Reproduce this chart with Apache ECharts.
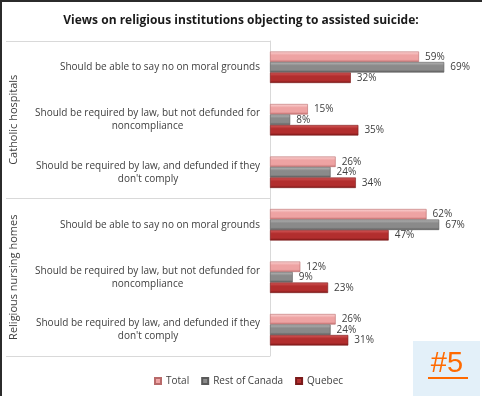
<!DOCTYPE html>
<html>
<head>
<meta charset="utf-8">
<script src="https://cdn.jsdelivr.net/npm/echarts@6/dist/echarts.min.js"></script>
<style>
  html, body { margin: 0; padding: 0; background: #fff; }
  #chart { width: 482px; height: 396px; }
</style>
</head>
<body>
<div id="chart"></div>
<script>
// statements, top to bottom
const statements = [
  'Should be able to say no on moral grounds',
  'Should be required by law, but not defunded for\nnoncompliance',
  'Should be required by law, and defunded if they\ndon\'t comply',
  'Should be able to say no on moral grounds',
  'Should be required by law, but not defunded for\nnoncompliance',
  'Should be required by law, and defunded if they\ndon\'t comply'
]
const institutions = ['Catholic hospitals', 'Religious nursing homes']
const seriesNames = ['Total', 'Rest of Canada', 'Quebec']
const totalValues = [59, 15, 26, 62, 12, 26]
const restOfCanadaValues = [69, 8, 24, 67, 9, 24]
const quebecValues = [32, 35, 34, 47, 23, 31]

const font = 'Open Sans'
const textColor = '#404040'
const lineColor = '#d9d9d9'

function barGradient(top, mid, bottom) {
  return new echarts.graphic.LinearGradient(0, 0, 0, 1, [
    { offset: 0, color: top },
    { offset: 0.35, color: mid },
    { offset: 0.75, color: mid },
    { offset: 1, color: bottom }
  ])
}

const styles = [
  { color: barGradient('#fbd6d6', '#eea3a3', '#c47272'), borderColor: '#b86a6a' },
  { color: barGradient('#b8b8b8', '#8a8a8a', '#5c5c5c'), borderColor: '#5a5a5a' },
  { color: barGradient('#d45a5a', '#b22e2e', '#7c1818'), borderColor: '#7a1a1a' }
]

const values = [totalValues, restOfCanadaValues, quebecValues]

const chart = echarts.init(document.getElementById('chart'))
chart.setOption({
  animation: false,
  title: {
    text: 'Views on religious institutions objecting to assisted suicide:',
    left: 'center',
    top: 10,
    textStyle: { fontFamily: font, fontSize: 12, fontWeight: 'bold', color: '#1a1a1a' }
  },
  legend: {
    bottom: 5,
    left: 149,
    icon: 'rect',
    itemWidth: 6,
    itemHeight: 6,
    itemGap: 12,
    textStyle: { fontFamily: font, fontSize: 10, color: textColor },
    data: seriesNames
  },
  grid: [
    { left: 270, right: 10, top: 41, bottom: 40 },
    // label area, only used for the group separators and group names
    { left: 6, width: 264, top: 41, bottom: 40 }
  ],
  xAxis: [
    { type: 'value', gridIndex: 0, min: 0, max: 80, show: false },
    { type: 'value', gridIndex: 1, min: 0, max: 1, show: false }
  ],
  yAxis: [
    {
      type: 'category',
      gridIndex: 0,
      data: statements,
      inverse: true,
      axisLine: { lineStyle: { color: lineColor } },
      axisTick: { show: false },
      axisLabel: {
        interval: 0,
        margin: 10,
        fontFamily: font,
        fontSize: 10,
        color: textColor,
        lineHeight: 13,
        formatter: v => v.split('\n').map(s => '{c|' + s + '}').join('\n'),
        rich: { c: { align: 'center', fontFamily: font, fontSize: 10, color: textColor, lineHeight: 13 } }
      }
    },
    {
      type: 'category',
      gridIndex: 1,
      data: institutions,
      inverse: true,
      axisLine: { show: false },
      axisTick: { show: false },
      splitLine: { show: true, interval: 0, lineStyle: { color: lineColor, width: 1 } },
      axisLabel: {
        interval: 0,
        inside: true,
        rotate: 90,
        margin: 2,
        fontFamily: font,
        fontSize: 11,
        color: textColor
      }
    }
  ],
  series: seriesNames.map((name, i) => ({
    name,
    type: 'bar',
    xAxisIndex: 0,
    yAxisIndex: 0,
    data: values[i],
    barGap: '0%',
    barCategoryGap: '40%',
    itemStyle: { color: styles[i].color, borderColor: styles[i].borderColor, borderWidth: 0.6 },
    label: {
      show: true,
      position: 'right',
      distance: 6,
      formatter: '{c}%',
      fontFamily: font,
      fontSize: 10,
      color: textColor
    }
  })),
  graphic: [
    { type: 'rect', shape: { x: 0, y: 0, width: 482, height: 2 }, style: { fill: '#2b2b2b' } },
    { type: 'rect', shape: { x: 0, y: 0, width: 2, height: 396 }, style: { fill: '#2b2b2b' } },
    { type: 'rect', shape: { x: 413, y: 341, width: 67, height: 55 }, style: { fill: '#e3f0f9' } },
    {
      type: 'text',
      x: 447,
      y: 364,
      style: {
        text: '#5',
        fontFamily: 'Liberation Sans',
        fontSize: 29,
        fill: '#ff6a00',
        align: 'center',
        verticalAlign: 'middle'
      }
    },
    { type: 'rect', shape: { x: 428, y: 377, width: 40, height: 2 }, style: { fill: '#ff6a00' } }
  ]
})
</script>
</body>
</html>
